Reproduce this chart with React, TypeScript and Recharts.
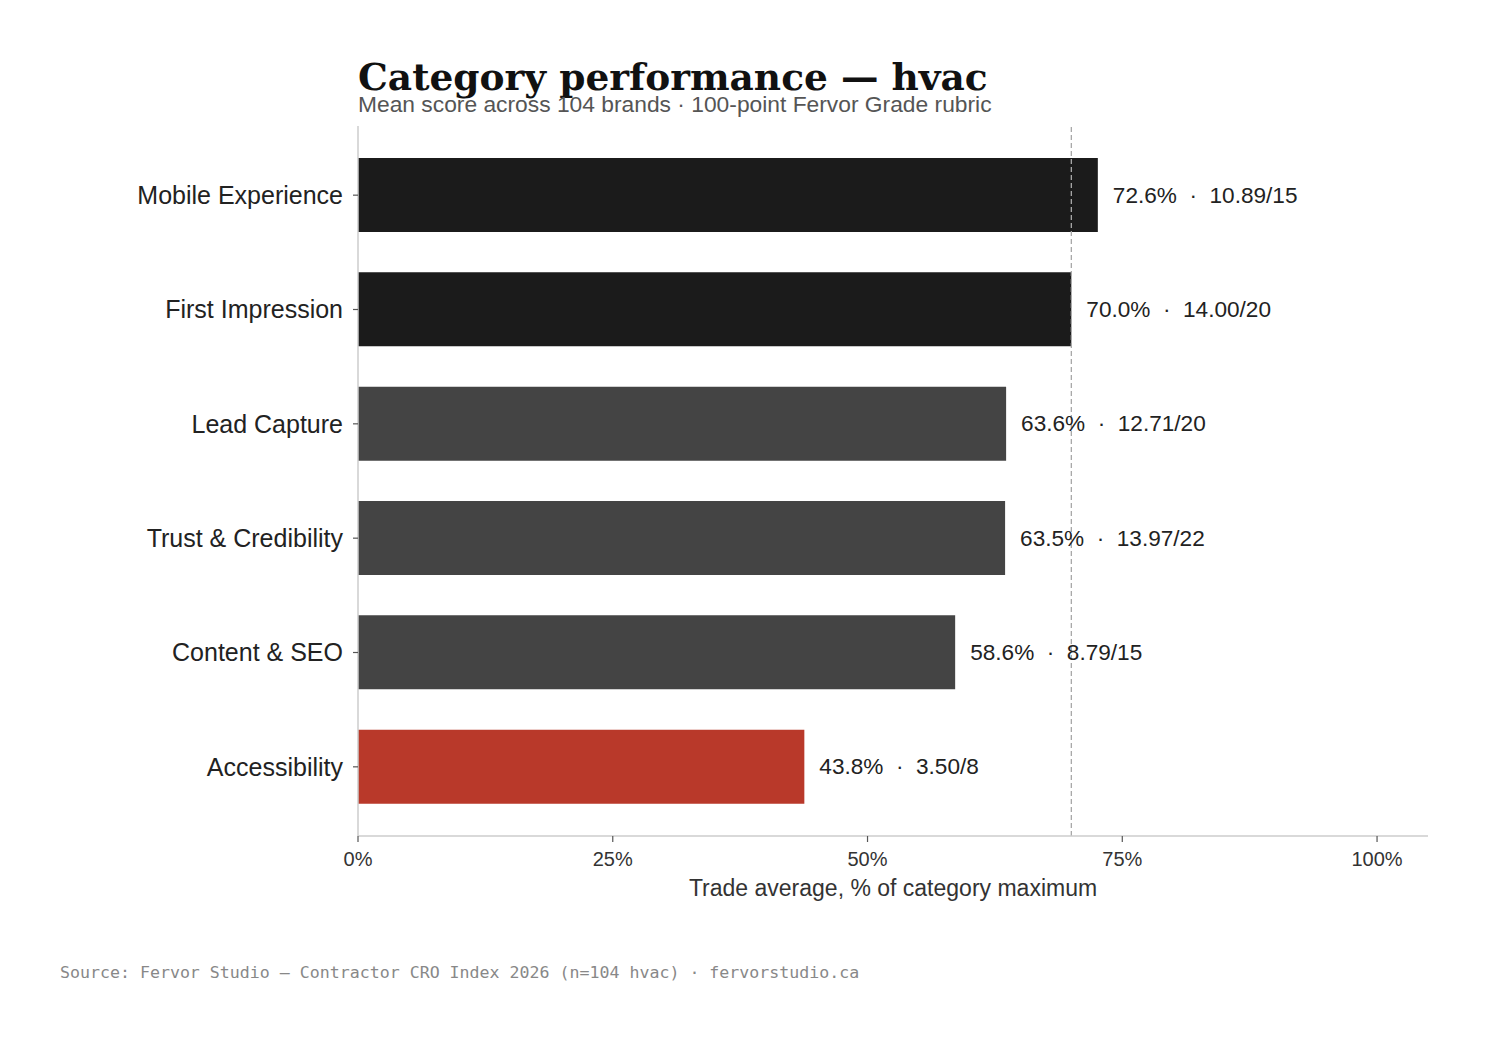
import { Bar, BarChart, Cell, LabelList, ReferenceLine, XAxis, YAxis } from "recharts";

const categories = [
  "Mobile Experience",
  "First Impression",
  "Lead Capture",
  "Trust & Credibility",
  "Content & SEO",
  "Accessibility",
];
const pctValues = [72.6, 70.0, 63.6, 63.5, 58.6, 43.8];
const meanScores = [10.89, 14.0, 12.71, 13.97, 8.79, 3.5];
const maxScores = [15, 20, 20, 22, 15, 8];
const barColors = ["#1b1b1b", "#1b1b1b", "#444444", "#444444", "#444444", "#b9392a"];
const xTicks = [0, 25, 50, 75, 100];
const tradeAverage = 70;

const rows = categories.map((name, i) => ({
  name,
  pct: pctValues[i],
  label: `${pctValues[i].toFixed(1)}%  ·  ${meanScores[i].toFixed(2)}/${maxScores[i]}`,
}));

const SANS = '"Liberation Sans", Arial, sans-serif';

function ValueLabel(props: any) {
  const { x, y, width, height, value } = props;
  return (
    <text
      x={x + width + 15}
      y={y + height / 2}
      dominantBaseline="central"
      fill="#222"
      fontSize={22.6}
      fontFamily={SANS}
      style={{ whiteSpace: "pre" }}
    >
      {value}
    </text>
  );
}

export default function App() {
  return (
    <div style={{ position: "absolute", left: 0, top: 0, width: 1489, height: 1042, background: "#fff" }}>
      <BarChart
        width={1489}
        height={1042}
        data={rows}
        layout="vertical"
        margin={{ top: 126, right: 61, bottom: 126, left: 58 }}
      >
        <XAxis
          type="number"
          domain={[0, 105]}
          ticks={xTicks}
          tickFormatter={(v) => `${v}%`}
          axisLine={{ stroke: "#cccccc", strokeWidth: 1.5 }}
          tickLine={{ stroke: "#555555", strokeWidth: 1.2 }}
          tickSize={6}
          tickMargin={10}
          tick={{ fill: "#333", fontSize: 20, fontFamily: SANS }}
          height={80}
          label={{
            value: "Trade average, % of category maximum",
            position: "insideBottom",
            offset: 20,
            fill: "#333",
            fontSize: 23,
            fontFamily: SANS,
          }}
        />
        <YAxis
          type="category"
          dataKey="name"
          width={300}
          padding={{ top: 12, bottom: 12 }}
          axisLine={{ stroke: "#cccccc", strokeWidth: 1.5 }}
          tickLine={{ stroke: "#555555", strokeWidth: 1.2 }}
          tickSize={5}
          tickMargin={10}
          tick={{ fill: "#222", fontSize: 25, fontFamily: SANS }}
        />
        <Bar dataKey="pct" barSize={74} isAnimationActive={false}>
          {rows.map((r, i) => (
            <Cell key={r.name} fill={barColors[i]} />
          ))}
          <LabelList dataKey="label" content={<ValueLabel />} />
        </Bar>
        <ReferenceLine x={tradeAverage} stroke="#a8a8a8" strokeDasharray="5 3" strokeWidth={1.3} />
      </BarChart>
      <svg
        width={1489}
        height={1042}
        style={{ position: "absolute", left: 0, top: 0, pointerEvents: "none" }}
      >
        <text x={358} y={90} fontSize={37.5} fontWeight="bold" fontFamily='"DejaVu Serif", serif' fill="#111">
          Category performance — hvac
        </text>
        <text x={358} y={112} fontSize={22.8} fontFamily={SANS} fill="#555">
          Mean score across 104 brands · 100-point Fervor Grade rubric
        </text>
        <text x={60} y={978} fontSize={16.6} fontFamily='"DejaVu Sans Mono", monospace' fill="#888">
          Source: Fervor Studio — Contractor CRO Index 2026 (n=104 hvac) · fervorstudio.ca
        </text>
      </svg>
    </div>
  );
}
